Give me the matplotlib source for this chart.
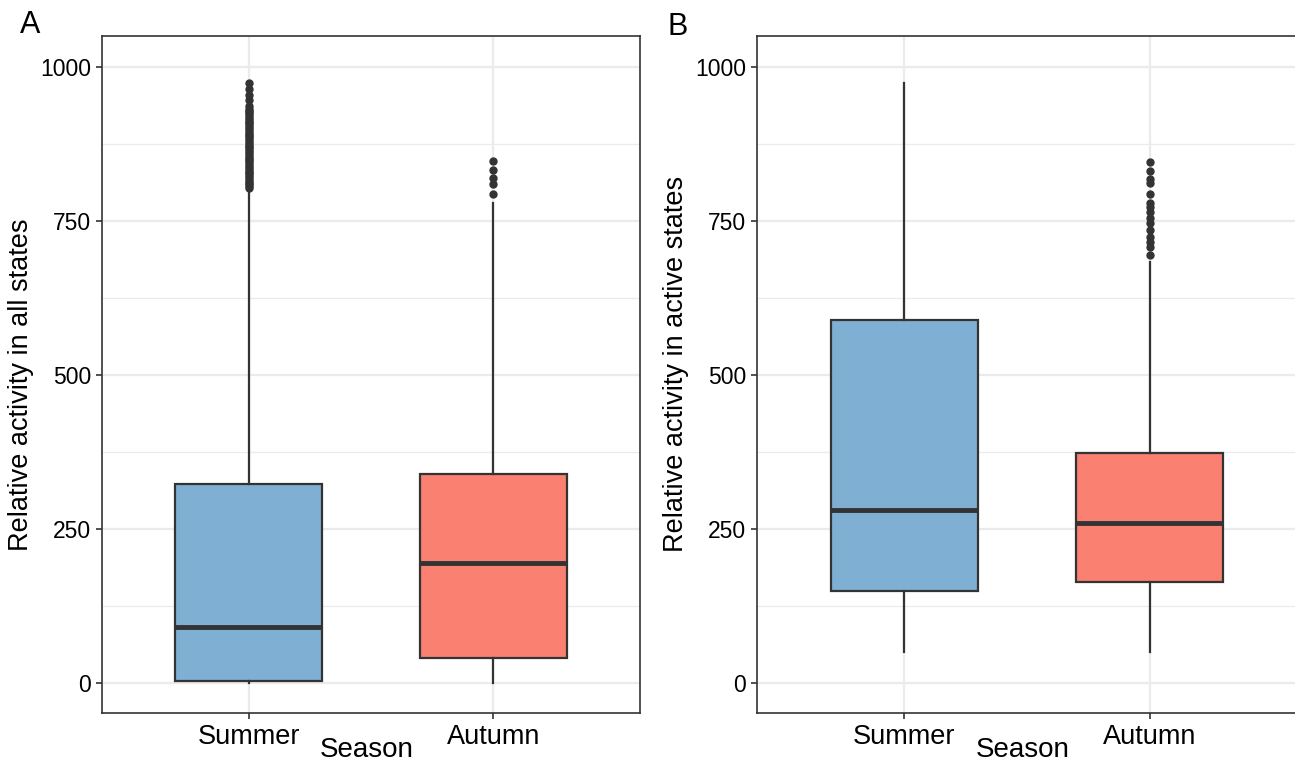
import matplotlib
matplotlib.use("Agg")
import matplotlib.pyplot as plt

plt.rcParams['font.family'] = ['Liberation Sans', 'DejaVu Sans']

seasons = ["Summer", "Autumn"]
box_colors = ["#7FAFD3", "#FA8072"]

# panel A: relative activity in all states
a_q1 = [3, 41]
a_med = [91, 195]
a_q3 = [322, 339]
a_wlo = [0, 0]
a_whi = [800, 779]
a_out_summer = [803, 806, 809, 812, 815, 818, 821, 824, 827, 830, 833, 836, 839,
                842, 845, 848, 851, 854, 857, 860, 863, 866, 869, 872, 875, 878,
                881, 884, 887, 890, 893, 896, 899, 902, 905, 908, 911, 914, 917,
                920, 923, 926, 929, 932, 936, 946, 955, 964, 973]
a_out_autumn = [793, 810, 820, 832, 847]

# panel B: relative activity in active states
b_q1 = [149, 163]
b_med = [281, 260]
b_q3 = [589, 373]
b_wlo = [50, 50]
b_whi = [974, 683]
b_out_summer = []
b_out_autumn = [695, 708, 716, 724, 735, 746, 754, 765, 773, 779, 793, 812, 818, 831, 846]

ylabels = ["Relative activity in all states", "Relative activity in active states"]
ylabel_y = [0.485, 0.516]

fig = plt.figure(figsize=(12.95, 7.61), dpi=100)
axA = fig.add_axes([102/1295, 48/761, 538/1295, 677/761])
axB = fig.add_axes([757/1295, 48/761, 540/1295, 677/761])

panels = [
    (axA, a_q1, a_med, a_q3, a_wlo, a_whi, [a_out_summer, a_out_autumn]),
    (axB, b_q1, b_med, b_q3, b_wlo, b_whi, [b_out_summer, b_out_autumn]),
]

for i, (ax, q1, med, q3, wlo, whi, outs) in enumerate(panels):
    stats = []
    for j in range(2):
        stats.append(dict(q1=q1[j], med=med[j], q3=q3[j], whislo=wlo[j],
                          whishi=whi[j], fliers=outs[j], label=seasons[j]))
    bp = ax.bxp(stats, positions=[1, 2], widths=0.6, patch_artist=True,
                showcaps=False,
                boxprops=dict(edgecolor="#333333", linewidth=1.6),
                whiskerprops=dict(color="#333333", linewidth=1.6),
                medianprops=dict(color="#333333", linewidth=3.5),
                flierprops=dict(marker="o", markerfacecolor="#333333",
                                markeredgecolor="#333333", markersize=5))
    for patch, c in zip(bp["boxes"], box_colors):
        patch.set_facecolor(c)

    ax.set_xlim(0.4, 2.6)
    ax.set_ylim(-49, 1050)
    ax.set_yticks([0, 250, 500, 750, 1000])
    ax.set_yticks([125, 375, 625, 875], minor=True)
    ax.set_xticks([1, 2])
    ax.set_xticklabels(seasons)
    ax.grid(True, which="major", color="#EBEBEB", linewidth=1.6, zorder=0)
    ax.grid(True, which="minor", axis="y", color="#EBEBEB", linewidth=0.9, zorder=0)
    ax.set_axisbelow(True)
    ax.tick_params(axis="both", which="major", length=4, width=1.2,
                   color="#333333", labelcolor="black")
    ax.tick_params(axis="y", which="major", labelsize=16.5, pad=4)
    ax.tick_params(axis="x", which="major", labelsize=19.5, pad=4)
    ax.tick_params(axis="y", which="minor", length=0)
    for s in ax.spines.values():
        s.set_color("#333333")
        s.set_linewidth(1.2)
    ax.set_ylabel(ylabels[i], fontsize=19.5, labelpad=4)
    ax.yaxis.label.set_y(ylabel_y[i])

fig.text(20/1295, 1 - 25/761, "A", fontsize=22, ha="left", va="center")
fig.text(668/1295, 1 - 27/761, "B", fontsize=22, ha="left", va="center")
fig.text(367/1295, 1 - 750/761, "Season", fontsize=20, ha="center", va="center")
fig.text(1023/1295, 1 - 750/761, "Season", fontsize=20, ha="center", va="center")

fig.savefig("out.png", dpi=100)
